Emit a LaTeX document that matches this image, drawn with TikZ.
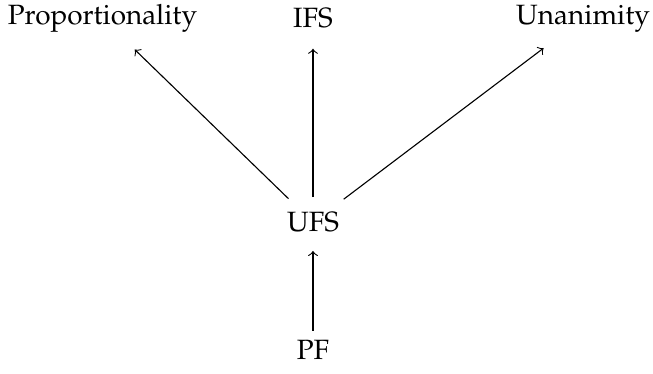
\documentclass[tikz,border=0pt]{standalone}
\usepackage[T1]{fontenc}
\usepackage{mathpazo}
\usepackage{amsmath}
\usepackage{tikz}

\begin{document}
\begin{tikzpicture}[imp/.style={->, shorten >=3.8pt}]
    \useasboundingbox (-3.94, -1.90) rectangle (4.28, 2.80);
    \node (prop) at (-2.65, 2.57) {Proportionality};
    \node (ifs) at (0, 2.57) {IFS};
    \node (unan) at (3.40, 2.57) {Unanimity};
    \node (ufs) at (0, 0) {UFS};
    \node (pf) at (0, -1.61) {PF};
    \draw  (ufs) edge[imp, shorten <=2pt] (prop);
    \draw  (ufs) edge[imp, shorten <=2pt] (ifs);
    \draw  (ufs) edge[imp, shorten <=2pt] (unan);
    \draw  (pf) edge[imp, shorten >=3.1pt] (ufs);
    \end{tikzpicture}
\end{document}
